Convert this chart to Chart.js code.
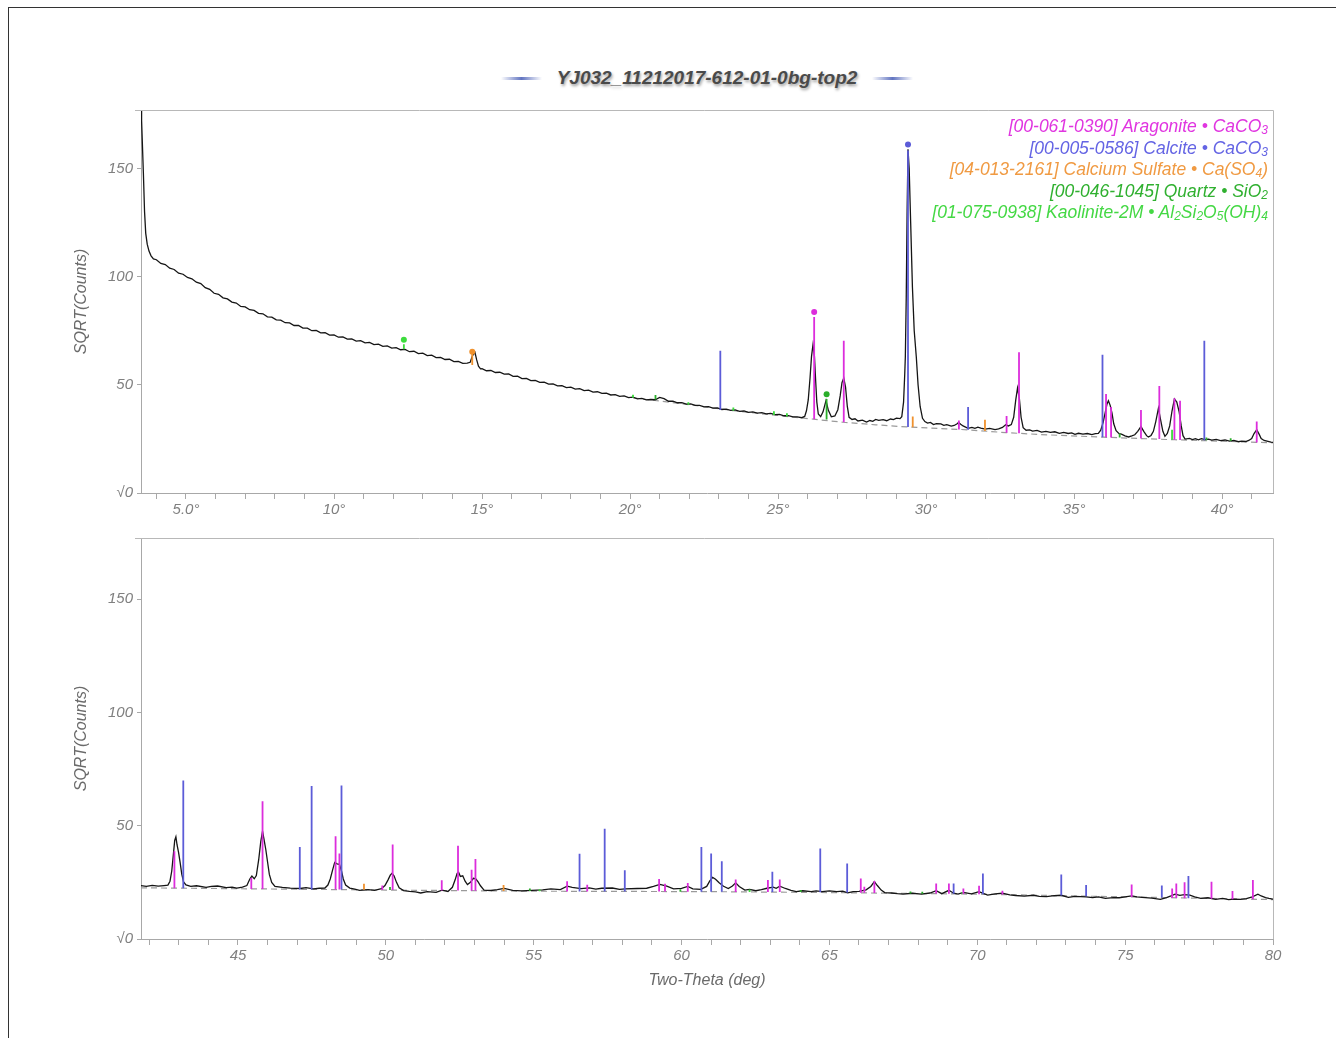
<!DOCTYPE html>
<html><head><meta charset="utf-8">
<script src="https://cdn.jsdelivr.net/npm/chart.js@4.4.1/dist/chart.umd.min.js"></script>
<style>
body{margin:0;background:#fff;width:1336px;height:1038px;position:relative;overflow:hidden;font-family:"Liberation Sans",Arial,sans-serif;}
#frame{position:absolute;left:8px;top:7px;width:1400px;height:1100px;border-top:1.5px solid #333;border-left:1.5px solid #333;}
#title{position:absolute;left:39px;width:1336px;top:67px;text-align:center;font:italic bold 19px "Liberation Sans",Arial,sans-serif;color:#4a4a4a;text-shadow:1px 2px 3px rgba(0,0,0,0.4);white-space:nowrap;}
.dash{display:inline-block;width:41px;height:3px;vertical-align:middle;background:linear-gradient(to right,rgba(110,130,210,0),rgba(90,110,190,0.95),rgba(110,130,210,0));margin:0 15px;}
#legend{position:absolute;right:68px;top:116px;text-align:right;font:italic 17.5px "Liberation Sans",Arial,sans-serif;line-height:21.5px;white-space:nowrap;}
#legend sub{font-size:12px;vertical-align:-2px;line-height:0;}
canvas{position:absolute;left:68px;}
</style></head>
<body>
<div id="frame"></div>
<div id="title"><span class="dash"></span>YJ032_11212017-612-01-0bg-top2<span class="dash"></span></div>
<canvas id="c1" width="1268" height="433" style="top:97px"></canvas>
<canvas id="c2" width="1268" height="469" style="top:525px"></canvas>
<div id="legend"></div>
<script>
// ---------- data ----------
const topRange = [3.48, 41.72];
const bottomRange = [41.72, 80.0];
const yMax = 177;

const topTickValues = [5, 10, 15, 20, 25, 30, 35, 40];
const topTickLabels = ['5.0°', '10°', '15°', '20°', '25°', '30°', '35°', '40°'];
const bottomTickValues = [45, 50, 55, 60, 65, 70, 75, 80];
const bottomTickLabels = ['45', '50', '55', '60', '65', '70', '75', '80'];
const yTickLabels = { 0: '√0', 50: '50', 100: '100', 150: '150' };

const phaseNames = [
  ['[00-061-0390] Aragonite', 'CaCO<sub>3</sub>'],
  ['[00-005-0586] Calcite', 'CaCO<sub>3</sub>'],
  ['[04-013-2161] Calcium Sulfate', 'Ca(SO<sub>4</sub>)'],
  ['[00-046-1045] Quartz', 'SiO<sub>2</sub>'],
  ['[01-075-0938] Kaolinite-2M', 'Al<sub>2</sub>Si<sub>2</sub>O<sub>5</sub>(OH)<sub>4</sub>']
];
const phaseColors = ['#dc2ddc', '#5c5cd8', '#f0922e', '#2aae2a', '#3ddc3d'];
const legendColors = ['#e035e0', '#6464e4', '#f09a42', '#30b030', '#44d844'];

// measured scan, 2θ (deg) vs sqrt(counts)
const topScan = [
[3.48,177],[3.50,172],[3.53,160],[3.56,148],[3.60,130],[3.64,120],[3.69,115],[3.75,111.8],[3.82,109.6],[3.9,108.2],
[4.0,107.8],[4.15,106.1],[4.3,105.6],[4.45,103.9],[4.6,103.3],[4.75,101.6],[4.9,101.1],[5.05,99.6],[5.2,99.0],[5.35,97.4],
[5.5,96.8],[5.65,94.9],[5.8,94.1],[5.95,92.3],[6.1,91.8],[6.25,90.2],[6.4,89.7],[6.55,88.2],[6.7,87.8],[6.85,86.2],
[7.0,86.0],[7.15,84.7],[7.3,84.4],[7.45,83.0],[7.6,82.8],[7.75,81.4],[7.9,81.3],[8.05,80.0],[8.2,79.9],[8.35,78.7],
[8.5,78.6],[8.65,77.4],[8.8,77.4],[8.95,76.2],[9.1,76.2],[9.25,75.0],[9.4,75.1],[9.55,74.0],[9.7,74.1],[9.85,73.0],
[10.0,73.1],[10.15,72.0],[10.3,72.1],[10.45,71.1],[10.6,71.2],[10.75,70.2],[10.9,70.4],[11.05,69.4],[11.2,69.6],[11.35,68.6],
[11.5,68.8],[11.65,67.8],[11.8,68.0],[11.95,67.0],[12.1,67.2],[12.25,66.2],[12.4,66.4],[12.55,65.3],[12.7,65.5],[12.85,64.4],
[13.0,64.6],[13.15,63.5],[13.3,63.7],[13.45,62.6],[13.6,62.7],[13.75,61.7],[13.9,61.8],[14.05,60.7],[14.2,60.8],[14.35,59.9],
[14.5,60.0],[14.6,60.4],[14.68,63.5],[14.76,65.0],[14.82,61.5],[14.88,58.6],[14.95,57.4],[15.0,57.5],[15.15,56.5],[15.3,56.6],
[15.45,55.7],[15.6,55.8],[15.75,54.9],[15.9,55.0],[16.05,53.9],[16.2,54.0],[16.35,52.9],[16.5,53.0],[16.65,51.9],[16.8,52.0],
[16.95,51.1],[17.1,51.2],[17.25,50.3],[17.4,50.4],[17.55,49.5],[17.7,49.6],[17.85,48.7],[18.0,48.9],[18.15,48.0],[18.3,48.2],
[18.45,47.3],[18.6,47.5],[18.75,46.6],[18.9,46.8],[19.05,46.0],[19.2,46.1],[19.35,45.3],[19.5,45.5],[19.65,44.7],[19.8,44.9],
[19.95,44.1],[20.1,44.3],[20.25,43.5],[20.4,43.7],[20.55,43.0],[20.7,43.2],[20.85,43.1],[21.0,44.2],[21.15,43.6],[21.3,42.4],
[21.45,42.4],[21.6,41.7],[21.75,41.8],[21.9,41.1],[22.05,41.2],[22.2,40.5],[22.35,40.5],[22.5,39.8],[22.65,39.9],[22.8,39.2],
[22.95,39.3],[23.1,38.6],[23.25,38.8],[23.4,38.2],[23.55,38.4],[23.7,37.7],[23.85,37.9],[24.0,37.3],[24.15,37.5],[24.3,36.9],
[24.45,37.1],[24.6,36.6],[24.75,36.8],[24.9,36.2],[25.05,36.3],[25.2,35.7],[25.35,35.8],[25.5,35.2],[25.65,35.2],[25.8,34.8],
[25.9,35.4],[25.96,38],[26.02,43],[26.08,53],[26.13,63],[26.18,68.5],[26.23,63],[26.27,52],[26.31,42],[26.36,36.5],
[26.44,35.3],[26.52,37.5],[26.62,42.7],[26.7,38.2],[26.8,35.2],[26.92,35.6],[27.02,38.5],[27.1,45],[27.16,51],[27.22,53.1],
[27.28,49],[27.34,40],[27.4,35.0],[27.5,34.0],[27.6,34.3],[27.7,33.3],[27.85,33.7],[27.99,32.8],[28.1,33.5],[28.2,33.1],
[28.3,34.0],[28.4,33.6],[28.55,33.9],[28.67,33.4],[28.8,34.2],[28.9,33.9],[29.0,34.6],[29.12,34.4],[29.18,35.3],[29.24,42],
[29.28,55],[29.30,63],[29.33,90],[29.36,130],[29.39,158.8],[29.43,150],[29.48,125],[29.54,95],[29.6,75],[29.67,63],
[29.73,50],[29.8,40],[29.88,34.5],[29.96,33.0],[30.05,32.3],[30.15,32.6],[30.25,31.6],[30.35,32.1],[30.5,31.9],[30.6,31.3],
[30.7,31.6],[30.85,30.9],[30.95,31.2],[31.05,32.0],[31.1,32.6],[31.17,31.8],[31.25,31.0],[31.42,29.9],[31.55,30.3],[31.65,29.9],
[31.75,30.4],[31.85,30.0],[32.0,29.5],[32.15,29.9],[32.33,29.3],[32.45,29.6],[32.58,30.3],[32.69,31.5],[32.78,31.0],[32.88,31.6],
[32.96,35],[33.03,43],[33.09,48.5],[33.15,44],[33.21,35],[33.28,30.2],[33.38,29.0],[33.5,29.2],[33.6,28.6],[33.75,28.9],
[33.9,28.1],[34.05,28.5],[34.2,28.0],[34.35,28.3],[34.5,27.6],[34.65,28.0],[34.8,27.5],[34.92,27.8],[35.03,27.1],[35.15,27.6],
[35.3,27.2],[35.45,27.5],[35.6,27.0],[35.72,27.4],[35.82,27.6],[35.9,29],[35.98,32.5],[36.05,37],[36.11,41],[36.16,42.6],
[36.22,40.5],[36.28,37],[36.34,32],[36.42,28.8],[36.52,27.4],[36.6,27.2],[36.72,26.4],[36.84,25.9],[36.95,26.4],[37.05,26.9],
[37.15,28.5],[37.26,30.7],[37.36,28.4],[37.45,26.5],[37.51,25.9],[37.6,26.6],[37.68,28.5],[37.76,33],[37.85,39.2],[37.92,34],
[38.0,28.5],[38.07,26.2],[38.15,27.5],[38.23,31],[38.31,38],[38.39,43.4],[38.47,42],[38.55,37.5],[38.62,31],[38.68,26.5],
[38.75,24.9],[38.9,25.2],[39.0,24.7],[39.1,25.1],[39.2,24.6],[39.3,25.1],[39.42,24.7],[39.54,24.9],[39.65,24.4],[39.8,24.8],
[39.95,24.2],[40.1,24.5],[40.25,24.0],[40.4,24.3],[40.55,23.7],[40.66,24.0],[40.8,23.8],[40.9,24.3],[41.0,25.2],[41.08,27.5],
[41.17,29.2],[41.25,27.2],[41.32,25.2],[41.42,24.3],[41.55,23.9],[41.65,23.5],[41.72,23.4]
];
const bottomScan = [
[41.72,23.6],[41.9,23.2],[42.1,23.7],[42.3,23.3],[42.5,23.6],[42.63,23.8],[42.7,25.5],[42.76,30],[42.82,38],[42.86,43.5],
[42.9,45.1],[42.94,41.5],[42.99,38.2],[43.04,34],[43.1,28.5],[43.16,25.2],[43.24,23.9],[43.4,23.2],[43.6,23.5],[43.92,22.8],
[44.1,23.2],[44.31,23.4],[44.6,22.7],[44.8,22.9],[44.96,22.5],[45.15,22.9],[45.3,23.6],[45.4,26.5],[45.47,27.8],[45.55,26.6],
[45.62,28],[45.7,35],[45.77,43],[45.83,47.6],[45.88,44],[45.94,39.5],[46.0,34],[46.06,28.5],[46.14,25],[46.25,23.2],
[46.5,22.8],[46.77,22.5],[47.1,22.3],[47.3,22.7],[47.55,22.1],[47.75,22.4],[47.94,22.5],[48.04,23.8],[48.12,26.5],[48.2,30.5],
[48.27,33.8],[48.35,33.2],[48.43,33.0],[48.5,30],[48.56,26.5],[48.64,23.8],[48.78,22.5],[48.95,22.0],[49.11,21.5],[49.4,21.8],
[49.62,21.5],[49.85,22.2],[49.97,23.6],[50.07,26],[50.15,28.2],[50.21,29.0],[50.28,27.8],[50.36,25],[50.45,22.6],[50.6,21.4],
[50.8,21.0],[51.0,20.8],[51.18,20.3],[51.4,20.9],[51.7,20.6],[51.9,21.6],[52.1,21.0],[52.25,22.8],[52.34,26],[52.41,29],
[52.46,29.5],[52.52,27.6],[52.6,27.9],[52.68,25.5],[52.76,24],[52.86,25],[52.96,26.8],[53.04,26.6],[53.12,25.2],[53.2,23.5],
[53.32,21.6],[53.55,21.4],[53.77,21.8],[54.0,22.3],[54.29,21.5],[54.6,21.2],[54.94,21.5],[55.3,21.7],[55.58,22.1],[55.9,21.8],
[56.13,23.3],[56.3,22.8],[56.6,22.2],[56.88,22.6],[57.1,22.0],[57.3,22.4],[57.66,22.5],[57.9,21.9],[58.1,22.1],[58.5,22.3],
[58.82,22.4],[59.05,23.2],[59.27,24.1],[59.5,23.3],[59.73,22.1],[60.0,22.3],[60.21,23.2],[60.38,22.1],[60.65,21.9],[60.85,23.2],
[60.95,25.5],[61.05,27.2],[61.15,26.4],[61.27,24.8],[61.42,23.3],[61.58,22.3],[61.72,23.4],[61.83,24.8],[61.95,23.2],[62.14,21.6],
[62.3,21.9],[62.51,21.3],[62.7,21.8],[62.89,22.4],[63.1,22.9],[63.2,22.4],[63.32,23.3],[63.51,22.3],[63.7,21.5],[63.88,20.9],
[64.1,21.3],[64.38,20.9],[64.55,21.2],[64.75,20.9],[65.0,21.2],[65.25,20.9],[65.45,21.1],[65.62,20.4],[65.8,20.9],[66.0,21.0],
[66.24,21.7],[66.4,23.2],[66.52,25.3],[66.62,23.6],[66.75,21.6],[66.87,20.5],[67.1,20.3],[67.3,20.0],[67.49,19.8],[67.8,20.2],
[68.11,19.8],[68.4,20.3],[68.61,21.3],[68.8,20.0],[69.04,21.5],[69.2,20.2],[69.35,19.8],[69.53,20.6],[69.8,19.9],[70.06,20.9],
[70.2,20.1],[70.35,19.4],[70.6,19.9],[70.85,20.2],[71.1,19.5],[71.3,19.2],[71.59,18.9],[71.9,19.3],[72.1,18.8],[72.34,18.7],
[72.6,19.1],[72.84,19.3],[73.08,18.4],[73.3,18.8],[73.68,18.6],[73.9,18.3],[74.1,18.6],[74.33,17.9],[74.6,18.3],[74.8,18.2],
[75.0,18.6],[75.22,19.0],[75.4,18.6],[75.57,18.4],[75.9,18.0],[76.19,17.5],[76.4,18.3],[76.55,19.0],[76.69,19.8],[76.85,19.3],
[77.0,19.6],[77.19,19.4],[77.35,18.6],[77.56,17.9],[77.8,18.2],[78.06,17.5],[78.3,17.9],[78.5,17.4],[78.68,17.6],[78.9,17.5],
[79.1,17.8],[79.3,18.6],[79.49,19.8],[79.6,19.0],[79.75,18.3],[79.86,17.9],[80.0,17.6]
];
// fitted background (dashed)
const topBackground = [
[20.1,44.0],[22.13,40.6],[23.5,38.0],[25.0,35.8],[26.2,34.1],[27.2,32.7],[28.3,31.5],[29.4,30.5],[31.4,29.2],[32.7,27.9],
[33.9,27.0],[36.0,25.8],[38.4,24.6],[41.72,23.2]
];
const bottomBackground = [
[41.72,22.6],[45,22.2],[50,21.6],[55,21.1],[61,20.9],[65,20.5],[70,19.8],[75,18.6],[80,17.4]
];

// reference stick patterns: [2θ, base, top]
const aragoniteSticks = [
[26.22,34.1,81.3],[27.22,32.7,70.4],[31.11,29.3,33.5],[32.72,27.9,35.6],[33.14,27.6,65.0],[36.08,25.8,45.7],[36.25,25.7,39.7],
[37.26,25.2,38.4],[37.88,24.9,49.5],[38.39,24.6,43.8],[38.58,24.5,42.6],[41.17,23.3,33.0],
[42.85,22.4,38.7],[45.45,22.1,26.9],[45.83,22.1,60.8],[48.30,21.8,45.4],[48.43,21.8,37.7],[49.88,21.6,23.6],[50.23,21.6,41.7],
[51.89,21.4,25.9],[52.44,21.4,41.2],[52.90,21.3,30.6],[53.03,21.3,35.3],[56.13,21.0,25.5],[56.81,21.0,24.0],[59.24,21.0,26.5],
[59.44,21.0,24.4],[60.21,20.9,24.7],[61.83,20.8,26.3],[62.92,20.8,26.0],[63.32,20.7,26.3],[66.06,20.4,26.7],[66.18,20.4,23.1],
[66.52,20.3,25.6],[68.61,20.1,24.5],[69.04,20.0,24.5],[69.53,19.9,22.3],[70.06,19.8,23.5],[70.85,19.6,21.3],[75.22,18.5,24.1],
[76.59,18.1,22.3],[76.73,18.1,24.5],[77.01,18.0,25.0],[77.92,17.8,25.3],[78.63,17.6,21.2],[79.32,17.5,26.0]
];
const calciteSticks = [
[23.05,38.3,65.7],[29.39,30.5,158.3],[31.42,29.2,39.7],[35.96,25.8,63.9],[39.40,24.4,70.4],
[43.15,22.4,70.0],[47.09,21.9,40.6],[47.49,21.9,67.5],[48.50,21.8,67.8],[56.55,21.0,37.6],[57.40,21.0,48.7],[58.08,21.0,30.3],
[60.67,20.9,40.6],[61.00,20.9,37.7],[61.36,20.9,34.3],[63.07,20.8,29.7],[64.69,20.6,39.9],[65.60,20.5,33.3],[69.20,20.0,24.5],
[70.19,19.8,28.9],[72.84,19.2,28.5],[73.68,18.9,23.8],[76.24,18.3,23.6],[77.14,18.0,27.8]
];
const sulfateSticks = [
[14.67,59.2,64.7],[29.55,30.4,35.3],[31.99,28.6,33.8],[49.26,21.7,24.4],[53.98,21.2,23.8]
];
const quartzSticks = [
[20.86,43.2,45.3],[26.64,34.0,43.4],[36.54,25.6,27.5],[39.47,24.4,25.6],[40.29,24.0,25.3],
[50.14,21.6,23.0],[54.87,21.2,22.3],[59.96,20.9,22.0],[64.03,20.7,21.6],[67.74,20.1,21.0],[68.14,20.0,20.9]
];
const kaoliniteSticks = [
[12.36,66.4,68.8],[20.10,44.0,45.4],[21.97,40.8,41.9],[23.49,38.0,39.5],[24.86,36.0,37.8],[25.30,35.4,36.8],[38.31,24.6,29.2],
[55.20,21.1,22.0],[62.30,20.8,21.8],[69.50,19.9,20.8]
];
const phaseSticks = [aragoniteSticks, calciteSticks, sulfateSticks, quartzSticks, kaoliniteSticks];
// circle markers on the strongest line of each phase
const phaseMarkers = [[26.22,83.7],[29.39,161.1],[14.67,65.3],[26.64,45.6],[12.36,70.8]];

// ---------- legend & helpers ----------
document.getElementById('legend').innerHTML = phaseNames.map((p, i) =>
  `<div style="color:${legendColors[i]}">${p[0]} • ${p[1]}</div>`).join('');

const inRange = (x, r) => x >= r[0] - 1e-9 && x <= r[1] + 1e-9;
const toPts = (list, r) => list.filter(p => inRange(p[0], r)).map(p => ({x: p[0], y: p[1]}));
function stickPts(list, r) {
  const out = [];
  list.filter(s => inRange(s[0], r)).forEach(s => {
    out.push({x: s[0], y: s[1]}, {x: s[0], y: s[2]}, {x: s[0], y: null});
  });
  return out;
}

const framePlugin = {
  id: 'frame',
  afterDraw(chart) {
    const a = chart.chartArea, ctx = chart.ctx;
    ctx.save();
    ctx.strokeStyle = '#b8b8b8';
    ctx.lineWidth = 1;
    ctx.beginPath();
    ctx.moveTo(a.left - 6, a.top + 0.5);
    ctx.lineTo(a.right + 0.5, a.top + 0.5);
    ctx.lineTo(a.right + 0.5, a.bottom);
    ctx.stroke();
    ctx.restore();
  }
};

const tickFont = {family: '"Liberation Sans", Arial, sans-serif', size: 15, style: 'italic'};
const titleFont = {family: '"Liberation Sans", Arial, sans-serif', size: 16, style: 'italic'};

function makeChart(canvasId, range, scan, background, tickValues, tickLabels, xTitle, xAxisHeight) {
  const datasets = [];
  datasets.push({
    type: 'scatter', data: phaseMarkers.filter(m => inRange(m[0], range)).map(m => ({x: m[0], y: m[1]})),
    pointRadius: 3, pointHoverRadius: 3, borderWidth: 0,
    pointBackgroundColor: phaseMarkers.map((m, i) => phaseColors[i]).filter((c, i) => inRange(phaseMarkers[i][0], range)),
    order: 0
  });
  phaseSticks.forEach((list, i) => {
    datasets.push({
      type: 'line', data: stickPts(list, range), borderColor: phaseColors[i], borderWidth: 1.8,
      pointRadius: 0, spanGaps: false, order: 1
    });
  });
  datasets.push({
    type: 'line', data: toPts(scan, range), borderColor: '#151515', borderWidth: 1.3,
    pointRadius: 0, tension: 0, order: 2
  });
  datasets.push({
    type: 'line', data: toPts(background, range), borderColor: '#9a9a9a', borderWidth: 1.2,
    borderDash: [6, 4], pointRadius: 0, order: 3
  });

  return new Chart(document.getElementById(canvasId), {
    type: 'line',
    data: {datasets},
    plugins: [framePlugin],
    options: {
      responsive: false, animation: false, devicePixelRatio: 1,
      layout: {padding: {top: 10, right: 63, left: 0, bottom: 0}},
      plugins: {legend: {display: false}, tooltip: {enabled: false}, title: {display: false}},
      elements: {line: {tension: 0}},
      scales: {
        x: {
          type: 'linear', min: range[0], max: range[1], offset: false,
          afterFit: s => { s.height = xAxisHeight; },
          border: {color: '#a8a8a8', width: 1},
          grid: {drawOnChartArea: false, drawTicks: true, tickLength: 6, color: '#a8a8a8', offset: false},
          ticks: {
            stepSize: 1, includeBounds: false, autoSkip: false, maxRotation: 0, padding: 2,
            color: '#808080', font: tickFont,
            callback: v => {
              const k = tickValues.findIndex(t => Math.abs(t - v) < 1e-6);
              return k >= 0 ? tickLabels[k] : '';
            }
          },
          title: {display: !!xTitle, text: xTitle || '', color: '#6a6a6a', font: titleFont, padding: {top: 4, bottom: 4}}
        },
        y: {
          type: 'linear', min: 0, max: yMax,
          afterFit: s => { s.width = 73; },
          border: {color: '#a8a8a8', width: 1},
          grid: {drawOnChartArea: false, drawTicks: true, tickLength: 4, color: '#a8a8a8'},
          ticks: {
            stepSize: 50, includeBounds: false, padding: 4, color: '#808080', font: tickFont,
            callback: v => (yTickLabels[v] !== undefined ? yTickLabels[v] : '')
          },
          title: {display: true, text: 'SQRT(Counts)', color: '#6a6a6a', font: titleFont, padding: {top: 4, bottom: 4}}
        }
      }
    }
  });
}

makeChart('c1', topRange, topScan, topBackground, topTickValues, topTickLabels, null, 37);
makeChart('c2', bottomRange, bottomScan, bottomBackground, bottomTickValues, bottomTickLabels, 'Two-Theta (deg)', 55);
</script>
</body></html>
